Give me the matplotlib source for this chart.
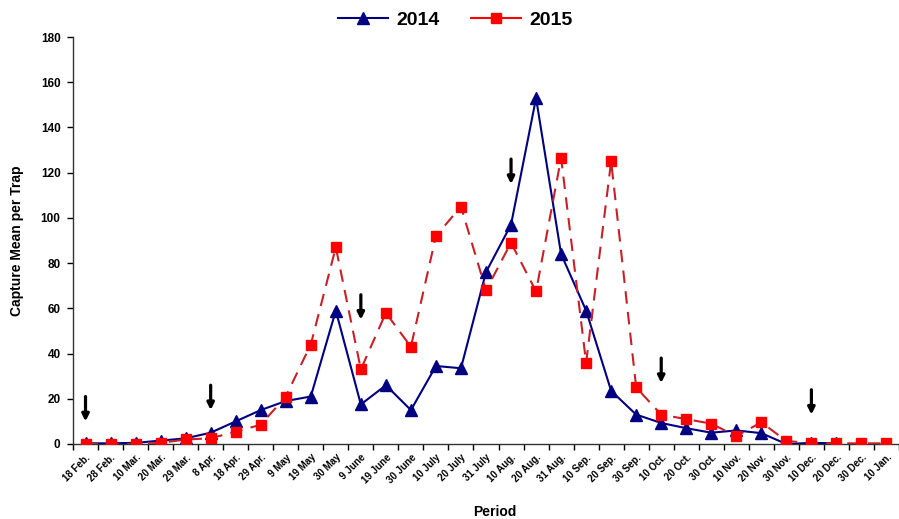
import numpy as np
import matplotlib
matplotlib.use("Agg")
import matplotlib.pyplot as plt
from matplotlib.lines import Line2D

plt.rcParams['font.family'] = ['Liberation Sans', 'DejaVu Sans']
plt.rcParams['font.weight'] = 'bold'

periods = ["18 Feb.", "28 Feb.", "10 Mar.", "20 Mar.", "29 Mar.", "8 Apr.", "18 Apr.",
           "29 Apr.", "9 May", "19 May", "30 May", "9 June", "19 June", "30 June",
           "10 July", "20 July", "31 July", "10 Aug.", "20 Aug.", "31 Aug.", "10 Sep.",
           "20 Sep.", "30 Sep.", "10 Oct.", "20 Oct.", "30 Oct.", "10 Nov.", "20 Nov.",
           "30 Nov.", "10 Dec.", "20 Dec.", "30 Dec.", "10 Jan."]

catch_2014 = [0.3, 0.3, 0.5, 1.5, 2.5, 5, 10, 15, 19, 21, 59, 17.5, 26, 15, 34.5, 33.5,
              76, 97, 153, 84, 59, 23.5, 13, 9.3, 7, 5, 6, 4.8, 0, 0.5, 0.3,
              np.nan, np.nan]
catch_2015 = [0, 0, 0, 0.5, 2, 2.5, 5.5, 8.5, 21, 44, 87, 33, 58, 43, 92, 105,
              68, 89, 67.5, 126.5, 36, 125, 25, 13, 11, 9, 3.5, 9.6, 1.3, 0.5, 0.3,
              0.3, 0.3]

# treatment dates marked with arrows: (period index, arrow tail, arrow tip)
arrow_idx = [0, 5, 11, 17, 23, 29]
arrow_top = [21, 26, 66, 126, 38, 24]
arrow_tip = [10, 15, 55, 115, 27, 13]

fig = plt.figure(figsize=(8.99, 5.19), dpi=100)
ax = fig.add_axes([73 / 899, 1 - 444 / 519, 1 - 73 / 899, (444 - 37) / 519])

x = np.arange(len(periods))
ax.plot(x, catch_2014, color='#000080', lw=1.5, marker='^', ms=8,
        markerfacecolor='#000080', markeredgecolor='#000080', label='2014', zorder=3)
ax.plot(x, catch_2015, color='#C82028', lw=1.5, ls=(0, (6, 4)), marker='s', ms=7,
        markerfacecolor='#FF0000', markeredgecolor='#FF0000', label='2015', zorder=4)

for i, top, tip in zip(arrow_idx, arrow_top, arrow_tip):
    ax.annotate('', xy=(i, tip), xytext=(i, top),
                arrowprops=dict(arrowstyle='-|>', color='black', lw=2.3,
                                mutation_scale=10, shrinkA=0, shrinkB=0))

ax.set_xlim(-0.5, 32.1)
ax.set_ylim(0, 180)
ax.set_yticks(np.arange(0, 181, 20))
ax.tick_params(axis='y', labelsize=8.5, length=4, direction='out', width=1, pad=5)
for lab in ax.get_yticklabels():
    lab.set_fontweight('bold')

ax.set_xticks(x)
ax.set_xticklabels(periods, rotation=45, ha='right', rotation_mode='anchor',
                   fontsize=7, fontweight='bold')
ax.tick_params(axis='x', length=0, pad=6)
ax.set_xticks(np.arange(-0.5, len(periods), 1), minor=True)
ax.tick_params(axis='x', which='minor', length=4, direction='out', width=1)

for side in ('top', 'right'):
    ax.spines[side].set_visible(False)
for side in ('left', 'bottom'):
    ax.spines[side].set_color('#333333')
    ax.spines[side].set_linewidth(1)

ax.set_ylabel('Capture Mean per Trap', fontsize=10, fontweight='bold', labelpad=12)
fig.text(495 / 899, 1 - 512 / 519, 'Period', ha='center', va='center',
         fontsize=10, fontweight='bold')

handles = [Line2D([], [], color='#000080', lw=1.5, marker='^', ms=8),
           Line2D([], [], color='#FF0000', lw=1.5, marker='s', ms=7)]
fig.legend(handles, ['2014', '2015'], loc='center', bbox_to_anchor=(455 / 899, 1 - 20 / 519),
           ncol=2, frameon=False, handlelength=2.6, handletextpad=0.4, columnspacing=1.6,
           prop=dict(size=14, weight='bold'))

fig.savefig('out.png', dpi=100)
